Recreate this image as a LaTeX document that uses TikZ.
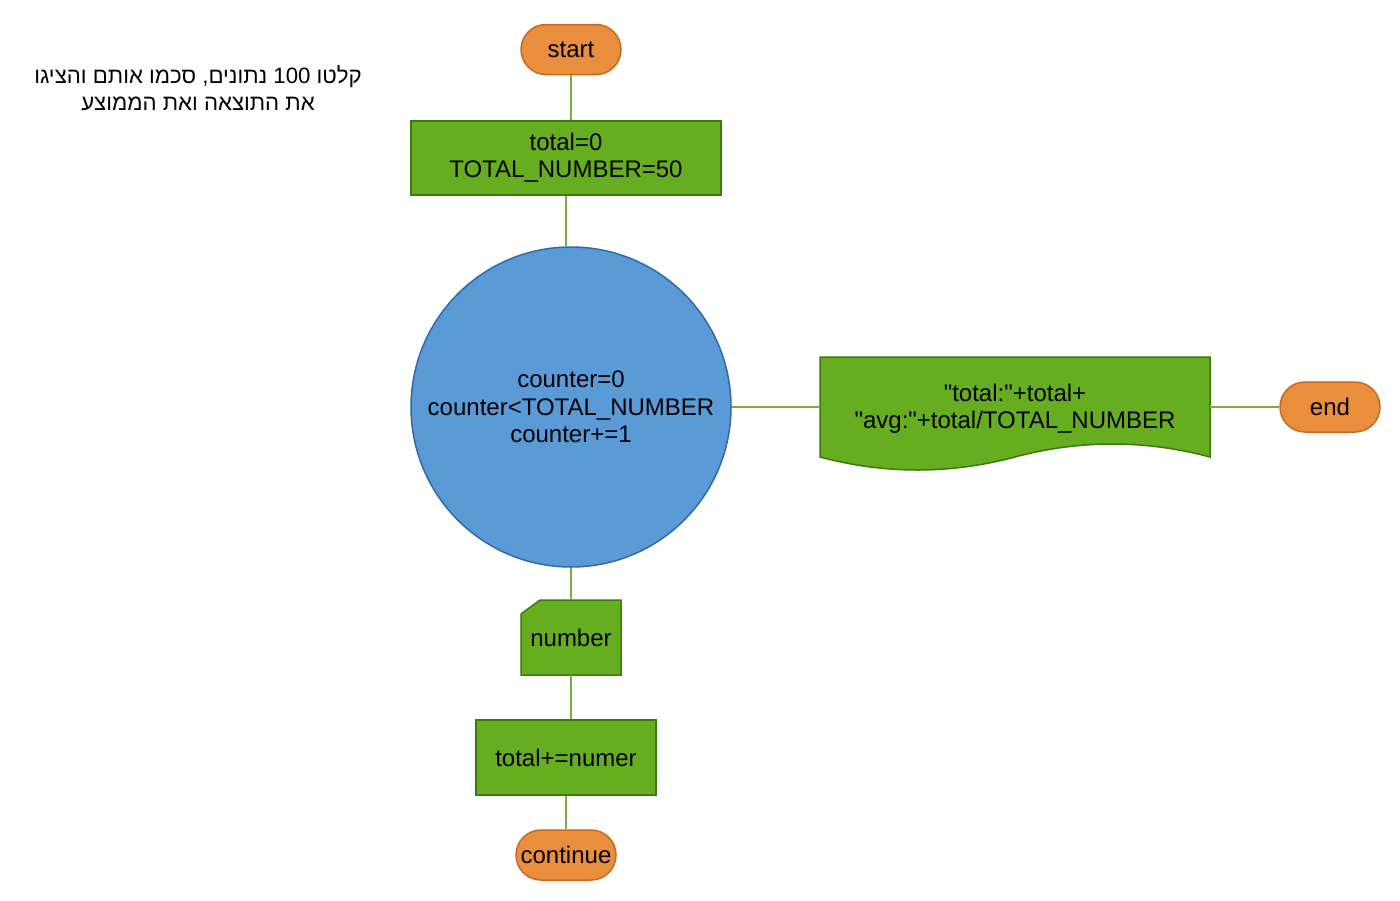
\documentclass[tikz,border=0pt]{standalone}
\usepackage{fontspec}
\newfontfamily\drawfont{Liberation Sans}
\newfontfamily\hebfont[Script=Hebrew]{Liberation Sans}
\TeXXeTstate=1
\definecolor{ofill}{HTML}{E88E3D}
\definecolor{ostroke}{HTML}{C9691F}
\definecolor{gfill}{HTML}{66AD1F}
\definecolor{gstroke}{HTML}{3B7A0E}
\definecolor{bfill}{HTML}{5A9AD6}
\definecolor{bstroke}{HTML}{2F6AA8}
\definecolor{conn}{HTML}{78AC45}
\begin{document}
\begin{tikzpicture}[x=1pt,y=-1pt,
  txt/.style={font=\drawfont\fontsize{24}{27.3}\selectfont, align=center, inner sep=0pt, text=black},
  term/.style={txt, rectangle, rounded corners=25pt, minimum width=100pt, minimum height=50pt, fill=ofill, draw=ostroke, line width=1.5pt},
  proc/.style={txt, rectangle, fill=gfill, draw=gstroke, line width=1.5pt},
  loopc/.style={txt, circle, minimum size=320pt, fill=bfill, draw=bstroke, line width=1.5pt},
  shp/.style={fill=gfill, draw=gstroke, line width=1.5pt},
  link/.style={draw=conn, line width=1.8pt}]
\useasboundingbox (0,0) rectangle (1400,900);

% Hebrew note
\node[font=\hebfont\fontsize{22.2}{27}\selectfont, align=center, inner sep=0pt] (note) at (198,88)
  {\beginR קלטו \beginL 100\endL{} נתונים, סכמו אותם והציגו\endR\\ \beginR את התוצאה ואת הממוצע\endR};

\node[term] (start) at (571,49.5) {start};
\node[proc, minimum width=310pt, minimum height=74pt] (init) at (566,158) {total=0\\TOTAL\_NUMBER=50};
\node[loopc] (loop) at (571,407) {counter=0\\counter<TOTAL\_NUMBER\\counter+=1};

% document shape
\filldraw[shp] (820,357) -- (1210,357) -- (1210,457)
  .. controls (1145,439.67) and (1080,439.67) .. (1015,457)
  .. controls (950,474.33) and (885,474.33) .. (820,457) -- cycle;
\node[txt, minimum width=390pt, minimum height=100pt] (out) at (1015,408.5) {"total:"+total+\\"avg:"+total/TOTAL\_NUMBER};

\node[term] (end) at (1330,407) {end};

% card shape
\filldraw[shp] (521,675) -- (621,675) -- (621,600) -- (540,600) -- (521,614) -- cycle;
\node[txt, minimum width=100pt, minimum height=75pt] (num) at (571,637.5) {number};

\node[proc, minimum width=180pt, minimum height=75pt] (add) at (566,757.5) {total+=numer};
\node[term] (cont) at (566,855) {continue};

\draw[link] (start.south) -- (start.south |- init.north);
\draw[link] (init.south) -- (init.south |- loop.north);
\draw[link] (loop.east) -- (out.west |- loop.east);
\draw[link] (out.east |- end.west) -- (end.west);
\draw[link] (loop.south) -- (num.north);
\draw[link] (num.south) -- (num.south |- add.north);
\draw[link] (add.south) -- (cont.north);
\end{tikzpicture}
\end{document}
